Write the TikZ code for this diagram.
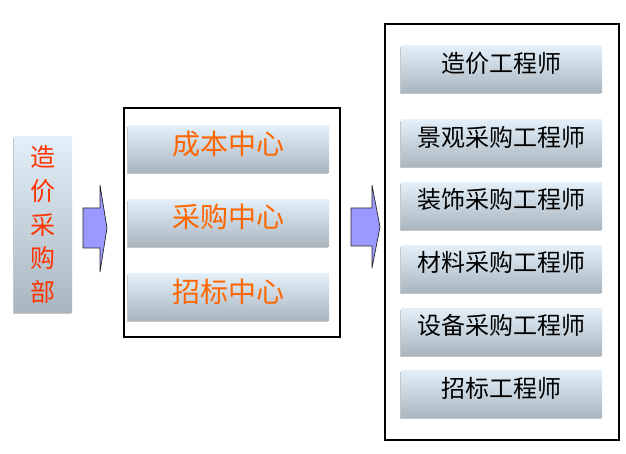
\documentclass[tikz,border=0pt]{standalone}
\usepackage{fontspec}
\newfontfamily\cjk{Noto Sans CJK SC}
\usetikzlibrary{positioning}
\definecolor{bartop}{HTML}{E3F0FA}
\definecolor{barbot}{HTML}{A9B5BF}
\definecolor{deptred}{HTML}{FF3300}
\definecolor{centreorange}{HTML}{FF6600}
\definecolor{arrowblue}{HTML}{9999FF}

\begin{document}
\begin{tikzpicture}[x=1pt, y=-1pt,
    bar/.style={top color=bartop, bottom color=barbot, inner sep=0pt,
        minimum width=201pt, minimum height=47pt,
        preaction={fill=gray!45, transform canvas={xshift=-1.5pt, yshift=-1.5pt}}},
    centre/.style={bar, text=centreorange, font=\cjk\fontsize{28}{30}\selectfont,
        text height=17pt, text depth=7pt},
    role/.style={bar, text=black, font=\cjk\fontsize{24}{26}\selectfont,
        text height=14pt, text depth=8pt},
    frame/.style={draw, line width=2pt, inner sep=0pt},
    blockarrow/.style={draw=black!85, fill=arrowblue, line width=0.7pt}
]
\useasboundingbox (0,0) rectangle (626,454);

% department
\node[bar, minimum width=58pt, minimum height=175pt, align=center, text=deptred,
      font=\cjk\fontsize{25}{33.75}\selectfont] (dept) at (43,224.5) {造\\价\\采\\购\\部};

% centres
\node[frame, minimum width=216pt, minimum height=229pt] (mid) at (232,222.5) {};
\node[centre] (cost) at (228.5,149.5) {成本中心};
\node[centre] (buy) at (228.5,223) {采购中心};
\node[centre] (bid) at (228.5,297) {招标中心};

% engineers
\node[frame, minimum width=234pt, minimum height=416pt] (right) at (502,232) {};
\node[role] (e1) at (501.5,69.5) {造价工程师};
\node[role] (e2) at (501.5,143.5) {景观采购工程师};
\node[role] (e3) at (501.5,206) {装饰采购工程师};
\node[role] (e4) at (501.5,269) {材料采购工程师};
\node[role] (e5) at (501.5,331.5) {设备采购工程师};
\node[role] (e6) at (501.5,394) {招标工程师};

% block arrows
\draw[blockarrow] (83,208) -- (100,208) -- (100,185) -- (107,228) -- (100,272)
    -- (100,248) -- (83,248) -- cycle;
\draw[blockarrow] (351,208) -- (372,208) -- (372,185) -- (380,227) -- (372,268)
    -- (372,246) -- (351,246) -- cycle;
\end{tikzpicture}
\end{document}
